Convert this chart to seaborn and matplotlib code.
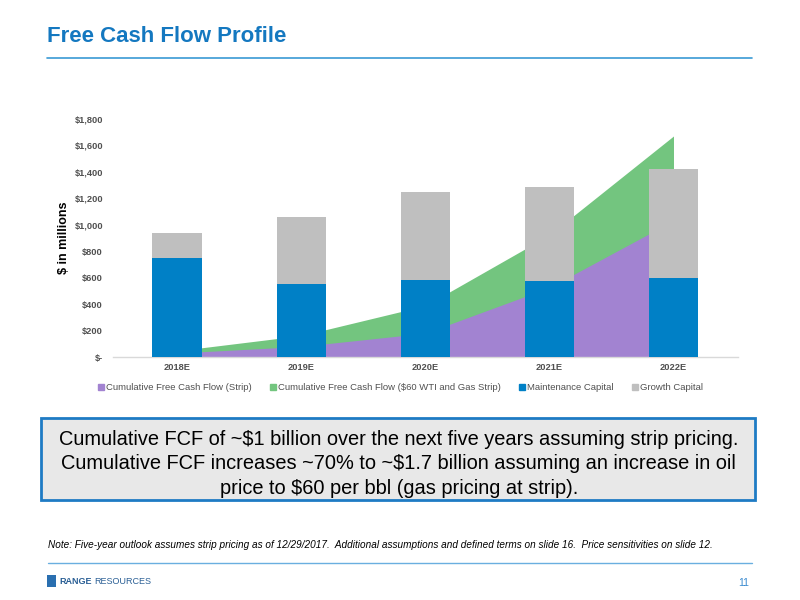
import matplotlib
matplotlib.use("Agg")
import matplotlib.pyplot as plt
import pandas as pd
import seaborn as sns
from matplotlib.patches import Rectangle
from matplotlib.lines import Line2D

# data ($ in millions)
years = ["2018E", "2019E", "2020E", "2021E", "2022E"]
maintenance_capital = [750, 550, 580, 578, 600]
growth_capital = [190, 510, 670, 707, 820]
cum_fcf_strip = [30, 80, 180, 525, 1030]
cum_fcf_60wti = [47, 162, 388, 922, 1670]
y_ticks = [0, 200, 400, 600, 800, 1000, 1200, 1400, 1600, 1800]

PURPLE = "#A283D1"
GREEN = "#73C57F"
BLUE = "#0080C6"
GREY = "#BFBFBF"
TITLE_BLUE = "#1478C0"

sns.set_theme(style="white")
plt.rcParams["font.family"] = ["Liberation Sans", "DejaVu Sans"]

df = pd.DataFrame({
    "year": years,
    "maint": maintenance_capital,
    "growth": growth_capital,
})
df["total"] = df["maint"] + df["growth"]

fig = plt.figure(figsize=(8, 6), dpi=100)
ax = fig.add_axes([0.141, 0.405, 0.7815, 0.397])

xs = list(range(len(years)))
ax.fill_between(xs, cum_fcf_60wti, color=GREEN, lw=0, zorder=1)
ax.fill_between(xs, cum_fcf_strip, color=PURPLE, lw=0, zorder=1.5)

sns.barplot(data=df, x="year", y="total", color=GREY, width=0.4,
            saturation=1, ax=ax, zorder=2, linewidth=0)
sns.barplot(data=df, x="year", y="maint", color=BLUE, width=0.4,
            saturation=1, ax=ax, zorder=3, linewidth=0)

ax.set_xlim(-0.52, 4.52)
ax.set_ylim(0, 1800)
ax.set_yticks(y_ticks)
ax.set_yticklabels(["$-"] + [f"${v:,}" for v in y_ticks[1:]])
ax.tick_params(axis="both", labelsize=6.7, length=0)
for lbl in ax.get_yticklabels() + ax.get_xticklabels():
    lbl.set_fontweight("bold")
    lbl.set_color("#505050")
ax.tick_params(axis="y", pad=7)
ax.tick_params(axis="x", pad=4.5)
ax.set_xlabel("")
ax.set_ylabel("$ in millions", fontsize=9, fontweight="bold", color="black", labelpad=3)
for side in ["top", "right", "left"]:
    ax.spines[side].set_visible(False)
ax.spines["bottom"].set_color("#D9D9D9")
ax.spines["bottom"].set_linewidth(1)

handles = [
    Line2D([], [], marker="s", ls="", color=PURPLE, markersize=4),
    Line2D([], [], marker="s", ls="", color=GREEN, markersize=4),
    Line2D([], [], marker="s", ls="", color=BLUE, markersize=4),
    Line2D([], [], marker="s", ls="", color=GREY, markersize=4),
]
labels = ["Cumulative Free Cash Flow (Strip)",
          "Cumulative Free Cash Flow ($60 WTI and Gas Strip)",
          "Maintenance Capital", "Growth Capital"]
leg = fig.legend(handles, labels, loc="center", bbox_to_anchor=(0.5, 0.354),
                 ncol=4, frameon=False, fontsize=6.8, handletextpad=0.1,
                 columnspacing=1.9, handlelength=0.8)
for t in leg.get_texts():
    t.set_color("#505050")

# title and rule
fig.text(0.059, 0.94, "Free Cash Flow Profile", fontsize=16, fontweight="bold",
         color=TITLE_BLUE, va="center", ha="left")
fig.add_artist(Line2D([0.059, 0.94], [0.903, 0.903], color="#3A9AD4", lw=1.2))

# callout box
fig.add_artist(Rectangle((0.051, 0.167), 0.893, 0.137, facecolor="#E8E8E8",
                         edgecolor="#1E7BC4", lw=2, transform=fig.transFigure))
fig.text(0.4985, 0.227,
         "Cumulative FCF of ~$1 billion over the next five years assuming strip pricing.\n"
         "Cumulative FCF increases ~70% to ~$1.7 billion assuming an increase in oil\n"
         "price to $60 per bbl (gas pricing at strip).",
         ha="center", va="center", fontsize=14.4, color="black", linespacing=1.36)

# footnote
fig.text(0.06, 0.092,
         "Note: Five-year outlook assumes strip pricing as of 12/29/2017.  Additional assumptions "
         "and defined terms on slide 16.  Price sensitivities on slide 12.",
         fontsize=7.2, style="italic", color="black", va="center", ha="left")
fig.add_artist(Line2D([0.06, 0.94], [0.062, 0.062], color="#6AAFE0", lw=1))

# footer
fig.add_artist(Rectangle((0.059, 0.022), 0.011, 0.019, facecolor="#2A6FB0",
                         edgecolor="none", transform=fig.transFigure))
fig.text(0.074, 0.03, "RANGE", fontsize=6.5, fontweight="bold", color="#2A5F95",
         va="center", ha="left")
fig.text(0.118, 0.03, "RESOURCES", fontsize=6.5, color="#2A5F95", va="center", ha="left")
fig.text(0.936, 0.028, "11", fontsize=7.5, color="#3A8ACF", va="center", ha="right")

fig.savefig("out.png", dpi=100)
